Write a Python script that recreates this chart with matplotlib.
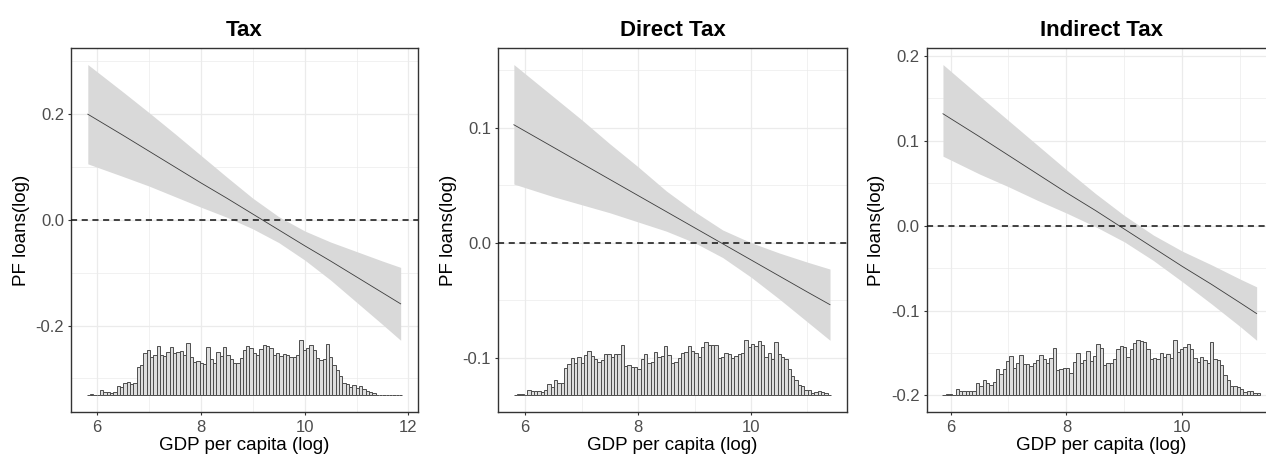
import numpy as np
import matplotlib
matplotlib.use("Agg")
import matplotlib.pyplot as plt
from matplotlib.ticker import MultipleLocator, FormatStrFormatter

# ---- data ----
panel_titles = ["Tax", "Direct Tax", "Indirect Tax"]

# Tax
gdp_tax = [5.82, 6.5, 7.0, 7.5, 8.0, 8.5, 9.0, 9.5, 10.0, 10.5, 11.0, 11.5, 11.85]
effect_tax = [0.200, 0.160, 0.130, 0.100, 0.070, 0.041, 0.011, -0.019, -0.049, -0.078, -0.108, -0.138, -0.159]
upper_tax = [0.294, 0.242, 0.203, 0.163, 0.122, 0.081, 0.041, 0.006, -0.021, -0.042, -0.060, -0.078, -0.090]
lower_tax = [0.106, 0.082, 0.064, 0.044, 0.024, 0.005, -0.017, -0.043, -0.076, -0.114, -0.156, -0.198, -0.228]
hist_range_tax = (5.80, 11.88)
hist_tax = [0, 1, 0, 0, 5, 3, 3, 2, 3, 9, 8, 12, 13, 11, 12, 28, 30, 42, 45, 38,
            40, 49, 40, 39, 43, 48, 42, 43, 44, 40, 52, 38, 33, 34, 32, 31, 48, 36, 32, 43,
            39, 48, 40, 36, 32, 32, 37, 45, 49, 47, 42, 40, 46, 50, 49, 47, 40, 42, 39, 41,
            40, 38, 38, 40, 55, 45, 47, 50, 45, 37, 35, 36, 51, 38, 30, 25, 19, 12, 11, 8,
            10, 7, 9, 6, 4, 3, 2, 0, 0, 0, 0, 0, 0, 0, 0]

# Direct tax
gdp_direct = [5.80, 6.5, 7.0, 7.5, 8.0, 8.5, 9.0, 9.5, 10.0, 10.5, 11.0, 11.4]
effect_direct = [0.1026, 0.083, 0.069, 0.055, 0.041, 0.027, 0.013, -0.001, -0.015, -0.029, -0.043, -0.054]
upper_direct = [0.155, 0.127, 0.107, 0.086, 0.066, 0.045, 0.027, 0.011, 0.000, -0.009, -0.017, -0.023]
lower_direct = [0.051, 0.040, 0.033, 0.026, 0.018, 0.010, 0.000, -0.013, -0.030, -0.049, -0.069, -0.085]
hist_range_direct = (5.80, 11.42)
hist_direct = [0, 1, 1, 0, 5, 4, 4, 4, 3, 5, 11, 8, 15, 12, 12, 27, 31, 37, 32, 38,
               32, 40, 44, 39, 36, 33, 35, 41, 41, 38, 41, 41, 49, 29, 30, 28, 28, 26, 36, 41,
               32, 33, 43, 38, 39, 48, 40, 32, 33, 37, 42, 43, 48, 44, 42, 38, 47, 52, 49, 49,
               49, 37, 38, 42, 41, 37, 39, 41, 42, 54, 47, 50, 48, 53, 49, 38, 42, 36, 52, 41,
               38, 36, 26, 19, 15, 10, 9, 5, 5, 2, 3, 4, 3, 2, 0]

# Indirect tax
gdp_indirect = [5.87, 6.5, 7.0, 7.5, 8.0, 8.5, 9.0, 9.5, 10.0, 10.5, 11.0, 11.28]
effect_indirect = [0.132, 0.105, 0.083, 0.061, 0.039, 0.018, -0.004, -0.026, -0.048, -0.069, -0.091, -0.1035]
upper_indirect = [0.190, 0.153, 0.124, 0.095, 0.066, 0.038, 0.012, -0.011, -0.030, -0.046, -0.063, -0.072]
lower_indirect = [0.082, 0.061, 0.046, 0.030, 0.015, -0.001, -0.019, -0.041, -0.066, -0.092, -0.119, -0.135]
hist_range_indirect = (5.86, 11.34)
hist_indirect = [0, 1, 1, 0, 6, 4, 4, 4, 4, 4, 12, 9, 15, 12, 10, 13, 26, 21, 26, 34,
                 39, 27, 32, 40, 31, 31, 29, 32, 35, 40, 36, 32, 37, 46, 25, 26, 27, 27, 22, 33,
                 42, 32, 35, 44, 34, 39, 50, 46, 30, 32, 32, 36, 45, 48, 47, 38, 45, 51, 54, 53,
                 52, 45, 36, 37, 36, 42, 38, 41, 37, 54, 43, 45, 47, 50, 45, 37, 33, 38, 35, 32,
                 52, 36, 35, 30, 20, 15, 9, 9, 8, 6, 3, 4, 4, 2, 2]

y_tick_steps = [0.2, 0.1, 0.1]

plt.rcParams['font.family'] = ['Liberation Sans', 'DejaVu Sans']
plt.rcParams['axes.unicode_minus'] = False

W, H = 1266, 462
fig = plt.figure(figsize=(W / 100, H / 100), dpi=100)
fig.patch.set_facecolor('white')

# axes boxes in pixels: left, right, top, bottom (third panel runs off the edge like the source)
boxes = [(71, 418, 48, 412), (498, 847, 48, 412), (926.5, 1276, 48, 412)]

panels = [
    (gdp_tax, effect_tax, upper_tax, lower_tax, hist_tax, hist_range_tax),
    (gdp_direct, effect_direct, upper_direct, lower_direct, hist_direct, hist_range_direct),
    (gdp_indirect, effect_indirect, upper_indirect, lower_indirect, hist_indirect, hist_range_indirect),
]


def draw_panel(ax, title, gdp, effect, upper, lower, counts, hrange, ystep):
    ci_top = max(upper)
    ci_bot = min(lower)
    span = ci_top - ci_bot
    # histogram under the band, tallest bar reaching the lowest CI point
    base = ci_bot - 0.2 * span
    counts = np.asarray(counts, dtype=float)
    heights = counts / counts.max() * 0.2 * span
    edges = np.linspace(hrange[0], hrange[1], len(counts) + 1)
    ax.bar(edges[:-1], heights, width=np.diff(edges), bottom=base, align='edge',
           color='#dedede', edgecolor='#4d4d4d', linewidth=0.7, zorder=3)

    ax.fill_between(gdp, lower, upper, color='#d9d9d9', linewidth=0, zorder=2)
    ax.plot(gdp, effect, color='#3c3c3c', linewidth=0.6, zorder=4)
    ax.axhline(0, color='#111111', linewidth=1.1, linestyle=(0, (4, 3)), zorder=5)

    xmin = min(gdp[0], hrange[0])
    xmax = max(gdp[-1], hrange[1])
    xpad = (xmax - xmin) * 0.05
    ax.set_xlim(xmin - xpad, xmax + xpad)
    ymin, ymax = base, ci_top
    ypad = (ymax - ymin) * 0.05
    ax.set_ylim(ymin - ypad, ymax + ypad)

    ax.xaxis.set_major_locator(MultipleLocator(2))
    ax.xaxis.set_minor_locator(MultipleLocator(1))
    ax.yaxis.set_major_locator(MultipleLocator(ystep))
    ax.yaxis.set_minor_locator(MultipleLocator(ystep / 2))
    ax.yaxis.set_major_formatter(FormatStrFormatter('%.1f'))
    ax.xaxis.set_major_formatter(FormatStrFormatter('%d'))

    ax.grid(True, which='major', color='#ebebeb', linewidth=0.9, zorder=0)
    ax.grid(True, which='minor', color='#ebebeb', linewidth=0.5, zorder=0)
    ax.set_axisbelow(True)
    ax.tick_params(which='minor', length=0)
    ax.tick_params(which='major', direction='out', length=2.5, width=0.8,
                   color='#333333', labelcolor='#4d4d4d', labelsize=12)
    ax.tick_params(axis='x', pad=3.5)
    ax.tick_params(axis='y', pad=2.5)
    for sp in ax.spines.values():
        sp.set_color('#333333')
        sp.set_linewidth(1.0)

    ax.set_title(title, fontsize=16, fontweight='bold', pad=9)
    ax.set_xlabel('GDP per capita (log)', fontsize=13.5, labelpad=1.5)
    ax.set_ylabel('PF loans(log)', fontsize=13.5, labelpad=4)


for (l, r, t, b), title, data, ystep in zip(boxes, panel_titles, panels, y_tick_steps):
    ax = fig.add_axes([l / W, 1 - b / H, (r - l) / W, (b - t) / H])
    draw_panel(ax, title, *data, ystep)

fig.savefig('out.png', dpi=100)
plt.close(fig)
